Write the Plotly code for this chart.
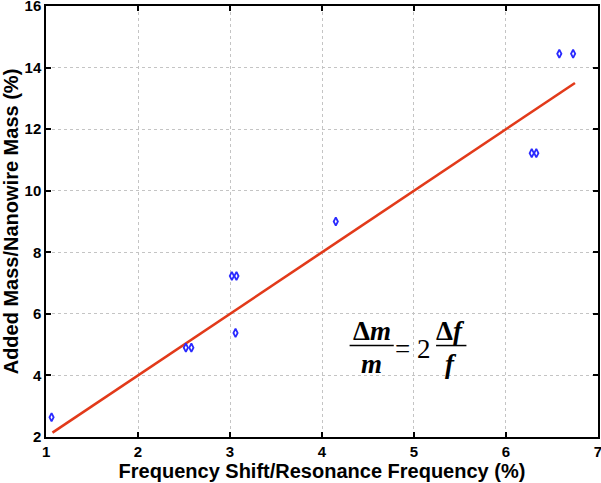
import plotly.graph_objects as go

freq_shift = [1.06, 2.52, 2.58, 3.02, 3.07, 3.06, 4.15, 6.28, 6.33, 6.58, 6.73]
mass_added = [2.64, 4.90, 4.90, 7.23, 7.23, 5.38, 9.00, 11.22, 11.22, 14.45, 14.45]
fit_x = [1.07, 6.75]
fit_slope = 2.0
fit_y = [fit_slope * v for v in fit_x]

x_ticks = [1, 2, 3, 4, 5, 6, 7]
y_ticks = [2, 4, 6, 8, 10, 12, 14, 16]

fig = go.Figure()
fig.add_trace(go.Scatter(x=fit_x, y=fit_y, mode="lines",
                         line=dict(color="#e23a1a", width=2.6), showlegend=False))
fig.add_trace(go.Scatter(x=freq_shift, y=mass_added, mode="markers",
                         marker=dict(symbol="diamond-tall-open", size=6,
                                     color="#2a2aff", line=dict(width=1.8, color="#2a2aff")),
                         showlegend=False))

axis_common = dict(showline=True, linecolor="black", linewidth=1.5, mirror="ticks",
                   ticks="inside", ticklen=5, tickwidth=1.5, tickcolor="black",
                   showgrid=True, gridcolor="#c4c4c4", griddash="dot", gridwidth=1,
                   zeroline=False, automargin=False, ticklabeloverflow="allow",
                   tickfont=dict(family="Liberation Sans, Arial", size=15, color="black"))

fig.update_xaxes(range=[0.9995, 7.0005], tickvals=x_ticks,
                 ticktext=[f"<b>{v}</b>" for v in x_ticks], **axis_common,
                 title=dict(text="<b>Frequency Shift/Resonance Frequency (%)</b>",
                            font=dict(family="Liberation Sans, Arial", size=20, color="black"),
                            standoff=2))
fig.update_yaxes(range=[1.999, 16.001], tickvals=y_ticks,
                 ticktext=[f"<b>{v}</b>" for v in y_ticks], **axis_common,
                 title=dict(text="<b>Added Mass/Nanowire Mass (%)</b>",
                            font=dict(family="Liberation Sans, Arial", size=20, color="black"),
                            standoff=4))

eq_font = dict(family="Liberation Serif, Times New Roman", size=27, color="black")
def ann(x, y, t):
    fig.add_annotation(x=x, y=y, xref="x", yref="y", text=t, showarrow=False, font=eq_font)

ann(4.54, 5.45, "<b>Δ<i>m</i></b>")
ann(4.54, 4.38, "<b><i>m</i></b>")
ann(4.98, 4.86, "= 2")
ann(5.40, 5.45, "<b>Δ<i>f</i></b>")
ann(5.40, 4.38, "<b><i>f</i></b>")
fig.add_shape(type="line", xref="x", yref="y", x0=4.30, x1=4.78, y0=4.97, y1=4.97,
              line=dict(color="black", width=1.5))
fig.add_shape(type="line", xref="x", yref="y", x0=5.24, x1=5.57, y0=4.97, y1=4.97,
              line=dict(color="black", width=1.5))

fig.update_layout(width=601, height=483, plot_bgcolor="white", paper_bgcolor="white",
                  margin=dict(l=46, r=3, t=6, b=46))
fig.write_html("out.html", config={"displayModeBar": False},
               post_script="document.body.style.margin='0';document.body.style.overflow='hidden';")
